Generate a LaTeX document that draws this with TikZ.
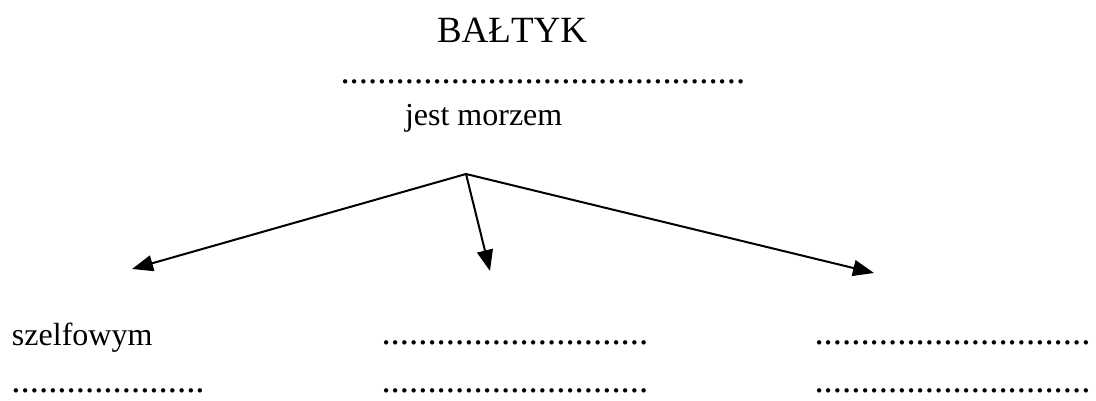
\documentclass[tikz,border=0pt]{standalone}
\usepackage{fontspec}
\setmainfont{Liberation Serif}
\usetikzlibrary{arrows.meta}
\newcommand\titlesize{\fontsize{37}{40}\selectfont}
\newcommand\bodysize{\fontsize{32}{36}\selectfont}
\newcommand\dotsize{\fontsize{36.8}{40}\selectfont}
\begin{document}
\begin{tikzpicture}[x=1pt,y=-1pt,
  txt/.style={anchor=base west,inner sep=0pt,outer sep=0pt},
  dotrow/.style={txt,font=\dotsize},
  arr/.style={line width=2pt,-{Triangle[length=21pt,width=16pt]}}]
\useasboundingbox (0,0) rectangle (1096,401);
\node[txt,font=\titlesize] (title) at (437,43) {BAŁTYK};
\node[dotrow] (topdots) at (340.5,83.5) {............................................};
\node[txt,font=\bodysize] (jest) at (405,126) {jest morzem};
\coordinate (apex) at (466,174);
\coordinate (tl) at (132,269);
\coordinate (tm) at (490,271);
\coordinate (tr) at (874,273);
\draw[arr] (apex) -- (tl);
\draw[arr] (apex) -- (tm);
\draw[arr] (apex) -- (tr);
\node[txt,font=\bodysize] (szelf) at (12,345) {szelfowym};
\node[dotrow] (r1c2) at (381.5,344.5) {.............................};
\node[dotrow] (r1c3) at (814.5,344.5) {..............................};
\node[dotrow] (r2c1) at (11.5,392.5) {.....................};
\node[dotrow] (r2c2) at (381.5,392.5) {.............................};
\node[dotrow] (r2c3) at (814.5,392.5) {..............................};
\end{tikzpicture}
\end{document}
